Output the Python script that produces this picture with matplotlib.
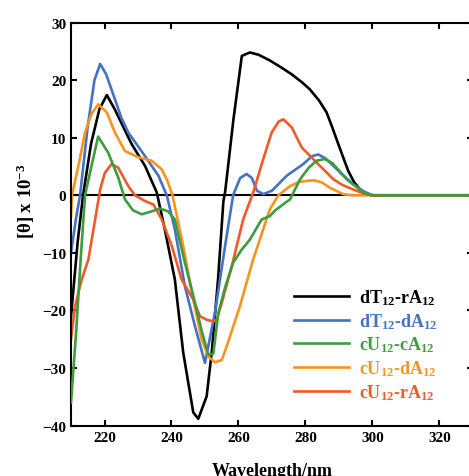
import matplotlib
matplotlib.use('Agg')
import matplotlib.pyplot as plt

plt.rcParams['font.family'] = 'Liberation Serif'
plt.rcParams['font.weight'] = 'bold'
plt.rcParams['mathtext.fontset'] = 'custom'
plt.rcParams['mathtext.rm'] = 'Liberation Serif:bold'
plt.rcParams['mathtext.it'] = 'Liberation Serif:italic:bold'
plt.rcParams['mathtext.bf'] = 'Liberation Serif:bold'

# CD spectra
wl_black = [210, 212, 213.6, 216, 218.5, 220.7, 223, 225.5, 228.1, 232.1, 235.6, 238, 241, 243.5,
            246.5, 248, 250.5, 252, 253.9, 255.5, 256, 258.5, 261, 263.4, 266, 269.4, 272.5, 275.9,
            279, 281.3, 284, 286.3, 288, 289.8, 291.5, 292.8, 294.5, 296.3, 298, 300, 305, 330]
th_black = [-21, -8, 0, 9, 15, 17.4, 15, 12, 8.9, 5.1, 0.5, -5.9, -14.6, -27.3,
            -37.7, -38.8, -34.9, -27.3, -14.6, -1, 0.5, 13.2, 24.2, 24.8, 24.4, 23.4, 22.3, 21.0,
            19.6, 18.4, 16.5, 14.4, 11.8, 8.9, 6.2, 4.2, 2.3, 1.0, 0.3, 0, 0, 0]

wl_blue = [210, 211.5, 212.7, 215, 217, 218.7, 220.5, 223.1, 225, 227.1, 232.1, 236.1, 238.6, 241,
           244, 247, 250, 253, 256, 258.4, 260.5, 262.4, 264, 265.5, 267.4, 270, 274.4, 279.3,
           282, 283.8, 286, 290.3, 294, 297.3, 300, 305, 330]
th_blue = [-10, -4, 0, 12, 20, 22.8, 21, 16.7, 13.5, 10.9, 6.8, 3.4, 0, -5.9,
           -15.8, -22.7, -29.1, -20.3, -8.8, 0, 3.0, 3.7, 3.0, 0.8, 0.2, 0.8, 3.4, 5.4,
           6.8, 7.1, 6.4, 4.0, 2.0, 0.7, 0, 0, 0]

wl_orange = [210, 210.3, 212.2, 214.2, 216, 218.1, 220.7, 223.1, 226.1, 230.1, 234.1, 237.1, 238.8,
             240.3, 243.5, 246.5, 249, 251, 253, 255, 256.5, 260.4, 264.4, 269.4, 271.9, 275.4,
             278, 280.4, 282.5, 285, 287.3, 291.3, 294, 300, 305, 330]
th_orange = [-3.6, 0, 5.1, 10.9, 14, 15.8, 14.4, 10.9, 7.7, 6.6, 6.0, 4.5, 2.5,
             0, -8.8, -18.1, -25.0, -28.0, -29.0, -28.6, -26.2, -19.3, -11.1, -2.4, 0, 1.6,
             2.3, 2.5, 2.6, 2.2, 1.3, 0.2, 0, 0, 0, 0]

wl_red = [210, 211.2, 213.2, 215.2, 217.2, 218.7, 220.1, 222.1, 224.1, 227.1, 229.1, 232.1, 234.6,
          237.1, 240.1, 243, 246.5, 248.5, 250.5, 252.5, 253.5, 255, 258, 261.4, 264.4, 267.4,
          269.9, 272, 273.4, 275.9, 278.9, 283.3, 288.3, 291, 294.3, 298, 300, 305, 330]
th_red = [-25, -19.3, -14.6, -11.1, -4.2, 1.0, 3.9, 5.4, 4.8, 1.6, 0, -1.0, -1.6,
          -4.2, -8.8, -14.6, -18.1, -21, -21.6, -21.9, -21.6, -18.7, -12.3, -4.2, 0.5, 6.3,
          10.9, 12.8, 13.2, 11.8, 8.3, 5.7, 2.8, 1.8, 1.0, 0.2, 0, 0, 0]

wl_green = [210, 211.5, 213, 214.2, 215.7, 218.1, 221.1, 224.1, 226.1, 228.5, 231.1, 234, 236.6,
            239, 241, 244, 247, 249, 251, 252.5, 254, 256, 258.4, 261, 263.4, 266.9, 269.4,
            271, 273.5, 275.4, 278.4, 281, 283.3, 285.8, 288, 292.3, 297.3, 300, 305, 330]
th_green = [-36, -24, -10, 0, 4, 10.2, 7.4, 3.1, -0.7, -2.6, -3.3, -2.8, -2.3,
            -2.8, -4.2, -11.7, -18.6, -23.5, -27.7, -27.5, -20.4, -16, -11.7, -9.4, -7.7, -4.2, -3.6,
            -2.6, -1.5, -0.7, 2.8, 4.8, 6.0, 6.3, 5.6, 2.8, 0.5, 0, 0, 0]

labels = [r'dT$_{12}$-rA$_{12}$', r'dT$_{12}$-dA$_{12}$', r'cU$_{12}$-cA$_{12}$',
          r'cU$_{12}$-dA$_{12}$', r'cU$_{12}$-rA$_{12}$']
colors = ['#000000', '#4472C4', '#3E9B3E', '#F7941D', '#EE5A28']

fig = plt.figure(figsize=(4.69, 4.77), dpi=100)
ax = fig.add_axes([0.1514, 0.1055, 0.857, 0.8452])

ax.axhline(0, color='black', lw=1.5, zorder=1)
l_black, = ax.plot(wl_black, th_black, color=colors[0], lw=1.9, zorder=2)
l_blue, = ax.plot(wl_blue, th_blue, color=colors[1], lw=1.9, zorder=2)
l_orange, = ax.plot(wl_orange, th_orange, color=colors[3], lw=1.9, zorder=2)
l_red, = ax.plot(wl_red, th_red, color=colors[4], lw=1.9, zorder=2)
l_green, = ax.plot(wl_green, th_green, color=colors[2], lw=1.9, zorder=3)

ax.set_xlim(210, 330)
ax.set_ylim(-40, 30)
ax.set_xticks([220, 240, 260, 280, 300, 320])
ax.set_yticks([-40, -30, -20, -10, 0, 10, 20, 30])
ax.tick_params(direction='in', length=4, width=1.5, labelsize=11, top=True, right=True)
for s in ax.spines.values():
    s.set_linewidth(1.5)

ax.set_ylabel(r'[θ] x 10$^{-3}$', fontsize=13.5, fontweight='bold')
ax.yaxis.set_label_coords(-0.085, 0.56)
ax.set_xlabel('Wavelength/nm', fontsize=13, fontweight='bold')
ax.xaxis.set_label_coords(0.5, -0.09)

leg = ax.legend([l_black, l_blue, l_green, l_orange, l_red], labels,
                loc='upper left', bbox_to_anchor=(0.532, 0.366), frameon=False,
                borderpad=0, handlelength=3.05, handletextpad=0.55, labelspacing=0.22,
                fontsize=13, labelcolor='linecolor')

fig.savefig('out.png', dpi=100)
